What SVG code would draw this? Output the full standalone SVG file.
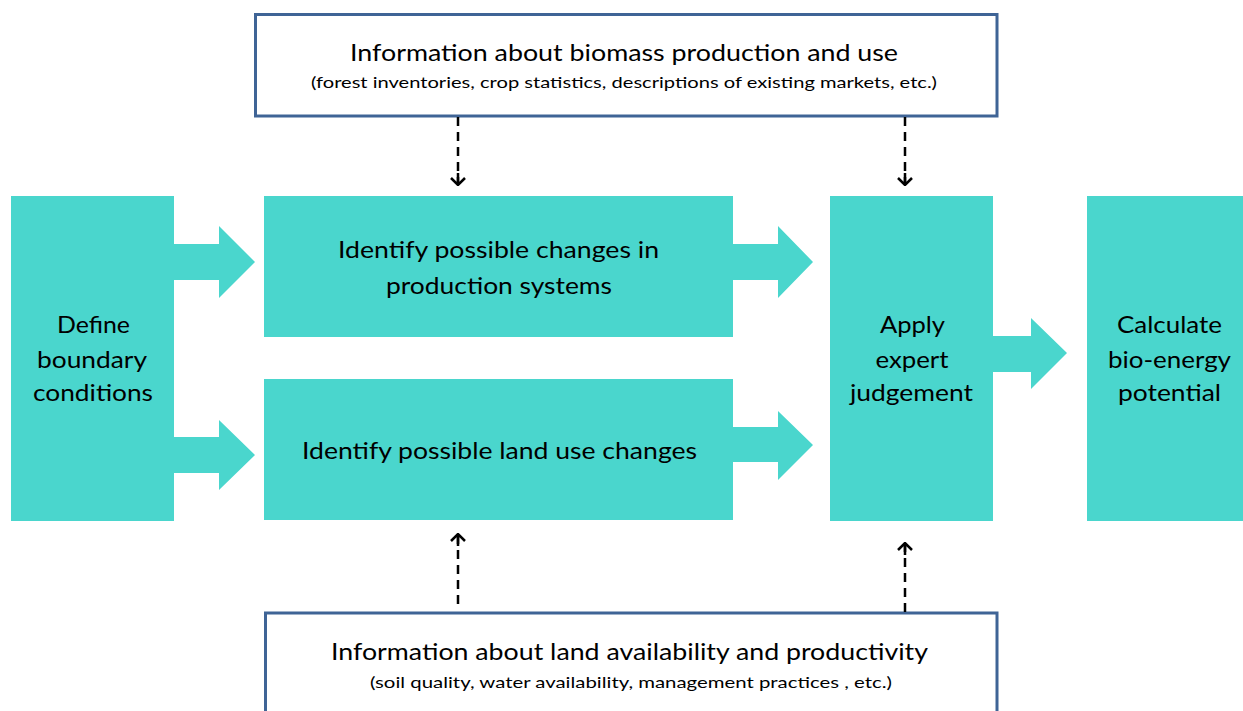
<svg xmlns="http://www.w3.org/2000/svg" width="1243" height="711" viewBox="0 0 1243 711">
<defs>
<style>
.box{fill:#4AD6CD;}
.info{fill:#fff;stroke:#3F6496;stroke-width:3;}
.arr{fill:#4AD6CD;}
.t{font-family:Lato,"Liberation Sans",sans-serif;font-size:23px;fill:#000;text-anchor:middle;}
.b{font-family:Lato,"Liberation Sans",sans-serif;font-size:24px;fill:#000;text-anchor:middle;}
.s{font-family:Lato,"Liberation Sans",sans-serif;font-size:16px;fill:#000;text-anchor:middle;}
.dash{stroke:#000;stroke-width:2.5;stroke-dasharray:9,6;fill:none;}
</style>
<marker id="vh" viewBox="0 0 14 16" refX="13" refY="8" markerWidth="14" markerHeight="16" markerUnits="userSpaceOnUse" orient="auto-start-reverse">
<path d="M6,1 L13,8 L6,15 M13,8 L1,8" fill="none" stroke="#000" stroke-width="2.5"/>
</marker>
</defs>
<rect width="1243" height="711" fill="#fff"/>

<g id="info-top">
<rect class="info" x="255.5" y="14.5" width="741.5" height="101.5"/>
<text class="t" x="624" y="61" textLength="548" lengthAdjust="spacingAndGlyphs">Information about biomass production and use</text>
<text class="s" x="624" y="88" textLength="626" lengthAdjust="spacingAndGlyphs">(forest inventories, crop statistics, descriptions of existing markets, etc.)</text>
</g>

<g id="info-bottom">
<rect class="info" x="265.5" y="613" width="731.5" height="110"/>
<text class="t" x="629.5" y="660" textLength="597" lengthAdjust="spacingAndGlyphs">Information about land availability and productivity</text>
<text class="s" x="631" y="688" textLength="522" lengthAdjust="spacingAndGlyphs">(soil quality, water availability, management practices , etc.)</text>
</g>

<g id="define">
<rect class="box" x="11" y="196" width="163" height="325"/>
<text class="b" x="93.5" y="333" textLength="73" lengthAdjust="spacingAndGlyphs">Define</text>
<text class="b" x="92" y="368" textLength="110" lengthAdjust="spacingAndGlyphs">boundary</text>
<text class="b" x="93" y="401" textLength="120" lengthAdjust="spacingAndGlyphs">conditions</text>
</g>

<g id="production">
<rect class="box" x="264" y="196" width="469" height="141"/>
<text class="b" x="498.5" y="258" textLength="321" lengthAdjust="spacingAndGlyphs">Identify possible changes in</text>
<text class="b" x="499" y="294" textLength="226" lengthAdjust="spacingAndGlyphs">production systems</text>
</g>

<g id="landuse">
<rect class="box" x="264" y="379" width="469" height="141"/>
<text class="b" x="499.5" y="459" textLength="395" lengthAdjust="spacingAndGlyphs">Identify possible  land use changes</text>
</g>

<g id="expert">
<rect class="box" x="830" y="196" width="163" height="325"/>
<text class="b" x="912.5" y="333" textLength="65" lengthAdjust="spacingAndGlyphs">Apply</text>
<text class="b" x="912" y="368" textLength="73" lengthAdjust="spacingAndGlyphs">expert</text>
<text class="b" x="911.5" y="401" textLength="123" lengthAdjust="spacingAndGlyphs">judgement</text>
</g>

<g id="calculate">
<rect class="box" x="1087" y="196" width="156" height="325"/>
<text class="b" x="1169.5" y="333" textLength="105" lengthAdjust="spacingAndGlyphs">Calculate</text>
<text class="b" x="1169.5" y="368" textLength="123" lengthAdjust="spacingAndGlyphs">bio-energy</text>
<text class="b" x="1169.5" y="401" textLength="103" lengthAdjust="spacingAndGlyphs">potential</text>
</g>

<g id="connectors">
<polygon class="arr" points="174,244 219,244 219,226 255,262 219,298 219,280 174,280"/>
<polygon class="arr" points="174,437 219,437 219,420 255,455 219,490 219,473 174,473"/>
<polygon class="arr" points="733,244 778,244 778,226 813,262 778,298 778,280 733,280"/>
<polygon class="arr" points="733,427 778,427 778,411 813,445 778,480 778,462 733,462"/>
<polygon class="arr" points="993,336 1031,336 1031,318 1067,353 1031,389 1031,372 993,372"/>
<line class="dash" x1="458" y1="117" x2="458" y2="185" marker-end="url(#vh)"/>
<line class="dash" x1="905" y1="117" x2="905" y2="185" marker-end="url(#vh)"/>
<line class="dash" x1="458" y1="604" x2="458" y2="534" marker-end="url(#vh)"/>
<line class="dash" x1="905" y1="612" x2="905" y2="543" marker-end="url(#vh)"/>
</g>
</svg>
